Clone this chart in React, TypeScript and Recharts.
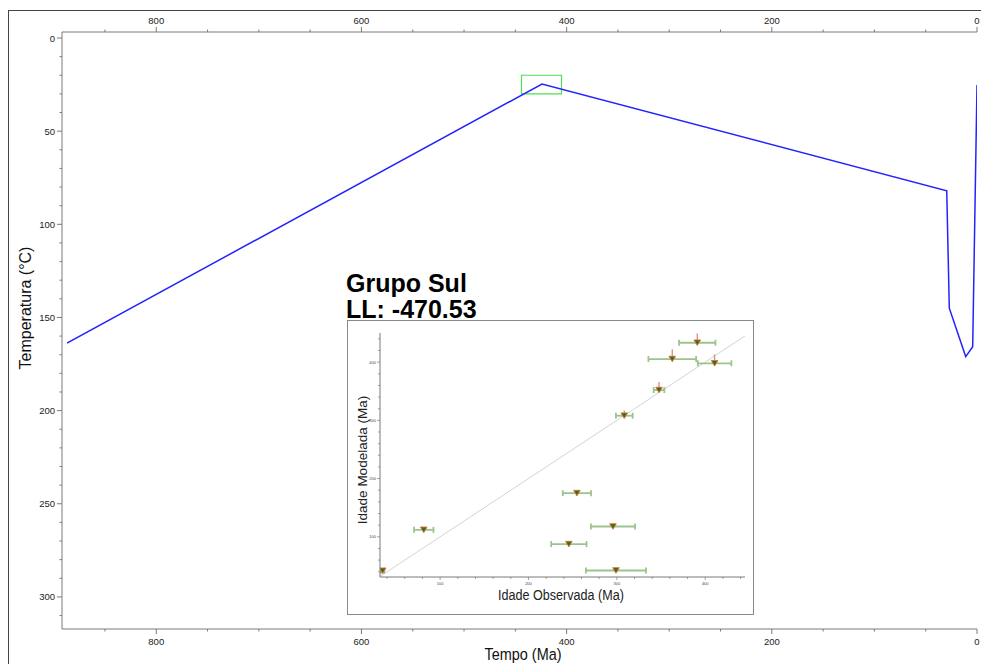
import React from 'react';
import {
  LineChart, Line, XAxis, YAxis, ReferenceArea,
  ScatterChart, Scatter, ErrorBar, ReferenceLine,
} from 'recharts';

// thermal history path (time in Ma, temperature in °C)
const timeMa = [887, 424, 29.5, 27, 11, 4.2, 0];
const tempC = [163.7, 24.7, 82, 145, 171, 165.7, 25.2];

// green constraint box
const boxTime = [405, 444];
const boxTemp = [20, 30];

const timeTicks = [0, 50, 100, 150, 200, 250, 300, 350, 400, 450, 500, 550, 600, 650, 700, 750, 800, 850];
const tempTicks = [0, 10, 20, 30, 40, 50, 60, 70, 80, 90, 100, 110, 120, 130, 140, 150, 160, 170, 180, 190, 200,
  210, 220, 230, 240, 250, 260, 270, 280, 290, 300, 310];

// inset: observed vs modelled ages
const obsAge = [35, 81.5, 245.7, 254.8, 295.6, 299, 308.4, 347.7, 362.7, 391, 410.6];
const obsErr = [2, 11, 20, 16, 25, 34, 9.5, 6, 27, 20.6, 19];
const modAge = [41.7, 112, 87.5, 175, 117.7, 42.2, 308, 352, 405.3, 433.3, 398];
const modErrUp = [2, 2, 2, 2, 2, 2, 9, 14, 17, 16, 15];
const ageTicks = [40, 60, 80, 100, 120, 140, 160, 180, 200, 220, 240, 260, 280, 300, 320, 340, 360, 380, 400, 420, 440];
const identityLine = [32, 445];

const FONT = '"Liberation Sans", Arial, sans-serif';
const AXIS = '#7a7a7a';

const pathData = timeMa.map((t, i) => ({ time: t, temp: tempC[i] }));
const ageData = obsAge.map((o, i) => ({ obs: o, mod: modAge[i], obsErr: obsErr[i], modErr: [0, modErrUp[i]] }));

const MainXTick = (props: any) => {
  const { x, y, payload, side } = props;
  const major = payload.value % 200 === 0;
  const dir = side === 'top' ? -1 : 1;
  return (
    <g>
      <line x1={x} y1={y} x2={x} y2={y + dir * (major ? 5 : 2.5)} stroke={AXIS} />
      {major && (
        <text x={x} y={side === 'top' ? y - 8 : y + 16} textAnchor="middle" fontSize={9.5} fill="#222" fontFamily={FONT}>
          {payload.value}
        </text>
      )}
    </g>
  );
};

const MainYTick = (props: any) => {
  const { x, y, payload } = props;
  const major = payload.value % 50 === 0;
  return (
    <g>
      <line x1={x} y1={y} x2={x - (major ? 5 : 2.5)} y2={y} stroke={AXIS} />
      {major && (
        <text x={x - 7} y={y} textAnchor="end" dominantBaseline="central" fontSize={9.5} fill="#222" fontFamily={FONT}>
          {payload.value}
        </text>
      )}
    </g>
  );
};

const InsetXTick = (props: any) => {
  const { x, y, payload } = props;
  const major = payload.value % 100 === 0;
  return (
    <g>
      <line x1={x} y1={y} x2={x} y2={y + (major ? 3 : 2)} stroke={AXIS} strokeWidth={0.7} />
      {major && (
        <text x={x} y={y + 8} textAnchor="middle" fontSize={4} fill="#444" fontFamily={FONT}>
          {payload.value}
        </text>
      )}
    </g>
  );
};

const InsetYTick = (props: any) => {
  const { x, y, payload } = props;
  const major = payload.value % 100 === 0;
  return (
    <g>
      <line x1={x} y1={y} x2={x - (major ? 3 : 2)} y2={y} stroke={AXIS} strokeWidth={0.7} />
      {major && (
        <text x={x - 4} y={y} textAnchor="end" dominantBaseline="central" fontSize={4} fill="#444" fontFamily={FONT}>
          {payload.value}
        </text>
      )}
    </g>
  );
};

const Triangle = (props: any) => {
  const { cx, cy } = props;
  return (
    <path
      d={`M${cx - 3.3},${cy - 2.8} L${cx + 3.3},${cy - 2.8} L${cx},${cy + 2.8} Z`}
      fill="#3d6b1e"
      stroke="#e0703a"
      strokeWidth={0.9}
    />
  );
};

export default function App() {
  return (
    <div style={{ position: 'fixed', left: 0, top: 0, width: 981, height: 664, overflow: 'hidden', background: '#fff' }}>
      <div style={{ position: 'absolute', left: 8, top: 10, width: 1000, height: 700, border: '1px solid #444' }} />

      <div style={{ position: 'absolute', left: 0, top: 0 }}>
        <LineChart width={981} height={664} data={pathData} margin={{ top: 31, right: 4, bottom: 34, left: 61 }}>
          <XAxis
            xAxisId="bottom" dataKey="time" type="number" domain={[0, 887]} reversed allowDataOverflow
            ticks={timeTicks} interval={0} height={1} tickSize={0} tickMargin={0} padding={{ left: 5, right: 0 }}
            stroke={AXIS} tickLine={false} tick={(p: any) => <MainXTick {...p} side="bottom" />}
          />
          <XAxis
            xAxisId="top" orientation="top" dataKey="time" type="number" domain={[0, 887]} reversed allowDataOverflow
            ticks={timeTicks} interval={0} height={1} tickSize={0} tickMargin={0} padding={{ left: 5, right: 0 }}
            stroke={AXIS} tickLine={false} tick={(p: any) => <MainXTick {...p} side="top" />}
          />
          <YAxis
            type="number" domain={[0, 314]} reversed allowDataOverflow ticks={tempTicks} interval={0}
            width={1} tickSize={0} tickMargin={0} padding={{ top: 6, bottom: 6 }}
            stroke={AXIS} tickLine={false} tick={(p: any) => <MainYTick {...p} />}
          />
          <ReferenceArea
            xAxisId="bottom" x1={boxTime[0]} x2={boxTime[1]} y1={boxTemp[0]} y2={boxTemp[1]}
            fill="none" fillOpacity={0} stroke="#4fe04f" strokeWidth={1.2}
          />
          <Line
            xAxisId="bottom" type="linear" dataKey="temp" stroke="#2323ff" strokeWidth={1.5}
            dot={false} activeDot={false} isAnimationActive={false}
          />
        </LineChart>
      </div>

      <div style={{ position: 'absolute', left: 347, top: 320, width: 405, height: 293, border: '1px solid #888', background: '#fff' }}>
        <ScatterChart width={405} height={293} margin={{ top: 12, right: 8, bottom: 36, left: 31 }}>
          <XAxis
            dataKey="obs" type="number" domain={[32, 445]} allowDataOverflow ticks={ageTicks} interval={0}
            height={1} tickSize={0} tickMargin={0} stroke={AXIS} tickLine={false}
            tick={(p: any) => <InsetXTick {...p} />}
          />
          <YAxis
            dataKey="mod" type="number" domain={[31, 450]} allowDataOverflow ticks={ageTicks} interval={0}
            width={1} tickSize={0} tickMargin={0} stroke={AXIS} tickLine={false}
            tick={(p: any) => <InsetYTick {...p} />}
          />
          <ReferenceLine
            segment={[{ x: identityLine[0], y: identityLine[0] }, { x: identityLine[1], y: identityLine[1] }]}
            stroke="#d4d4d4" strokeWidth={1}
          />
          <Scatter data={ageData} shape={<Triangle />} isAnimationActive={false}>
            <ErrorBar dataKey="obsErr" direction="x" stroke="#9cc48c" strokeWidth={1.8} width={3} />
            <ErrorBar dataKey="modErr" direction="y" stroke="#dc8a7a" strokeWidth={1.3} width={0} />
          </Scatter>
        </ScatterChart>
      </div>

      <svg width={981} height={664} style={{ position: 'absolute', left: 0, top: 0, pointerEvents: 'none' }}>
        <text transform="translate(25,308) rotate(-90)" textAnchor="middle" dominantBaseline="central" fontSize={16} fill="#111" fontFamily={FONT}>
          Temperatura (°C)
        </text>
        <text transform="translate(523,654) scale(0.85,1)" textAnchor="middle" dominantBaseline="central" fontSize={17} fill="#111" fontFamily={FONT}>
          Tempo (Ma)
        </text>
        <text x={346} y={292} fontSize={25} fontWeight="bold" fill="#000" fontFamily={FONT}>
          Grupo Sul
        </text>
        <text x={346} y={318} fontSize={25} fontWeight="bold" fill="#000" fontFamily={FONT}>
          LL: -470.53
        </text>
        <text transform="translate(362,460) rotate(-90)" textAnchor="middle" dominantBaseline="central" fontSize={13.5} fill="#222" fontFamily={FONT}>
          Idade Modelada (Ma)
        </text>
        <text transform="translate(561,595) scale(0.84,1)" textAnchor="middle" dominantBaseline="central" fontSize={15} fill="#222" fontFamily={FONT}>
          Idade Observada (Ma)
        </text>
      </svg>
    </div>
  );
}
